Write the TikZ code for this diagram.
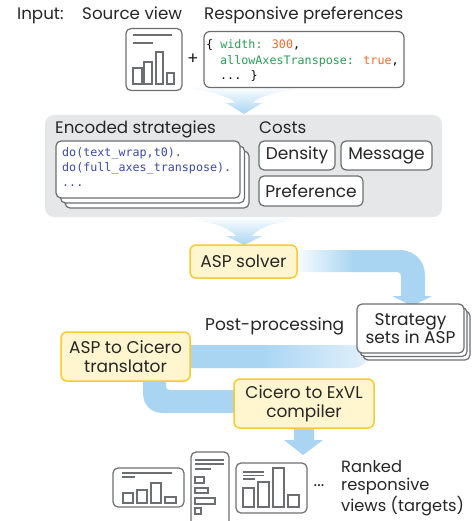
\documentclass[tikz,border=0pt]{standalone}
\usepackage{fontspec}
\setmainfont{Poppins}
\newfontfamily\codefont{DejaVu Sans Mono}
\definecolor{ink}{HTML}{262626}
\definecolor{cardgray}{HTML}{6D6E71}
\definecolor{grayfill}{HTML}{E6E7E8}
\definecolor{yfill}{HTML}{FFF6CF}
\definecolor{ygold}{HTML}{F7C932}
\definecolor{flowblue}{HTML}{A9D5F2}
\definecolor{flowpale}{HTML}{E4F1FB}
\definecolor{codegreen}{HTML}{2A9D55}
\definecolor{codeorange}{HTML}{F26B2A}
\definecolor{codenavy}{HTML}{3B4BA0}
\pgfdeclarehorizontalshading{fadeleft}{100bp}{color(0bp)=(white); color(25bp)=(white); color(47bp)=(flowblue); color(100bp)=(flowblue)}
\pgfdeclarehorizontalshading{faderight}{100bp}{color(0bp)=(flowblue); color(25bp)=(flowblue); color(45bp)=(flowblue); color(75bp)=(flowpale); color(100bp)=(flowpale)}
\newcommand\hdfont{\fontsize{16.7}{19}\selectfont}
\newcommand\lbfont{\fontsize{17}{18.5}\selectfont}
\newcommand\rkfont{\fontsize{16.3}{18.3}\selectfont}
\newcommand\cdfont{\fontsize{11.7}{14}\selectfont\codefont}
\begin{document}
\begin{tikzpicture}[x=1pt,y=-1pt,
  txt/.style={text=ink, inner sep=0pt},
  card/.style={draw=cardgray, line width=1.2pt, rounded corners=5pt, fill=white, inner sep=0pt},
  ybox/.style={draw=ygold, fill=yfill, line width=1.5pt, rounded corners=6pt, align=center, font=\lbfont, text=ink, inner sep=0pt},
  iconline/.style={draw=cardgray, line width=1.2pt},
  code/.style={inner sep=0pt, font=\cdfont, anchor=mid west}
]
\useasboundingbox (0,0) rectangle (471,521);

% ---- flows (behind everything)
\shade[top color=white, bottom color=flowblue]
  (172,86) .. controls (210,90) and (230,97) .. (236,103) -- (226,103) -- (244,114)
  -- (262,103) -- (252,103) .. controls (258,97) and (278,90) .. (316,86) -- cycle;
\shade[top color=white, bottom color=flowblue]
  (170,216) .. controls (210,220) and (230,228) .. (236,236) -- (226,236) -- (244,245)
  -- (262,236) -- (252,236) .. controls (258,228) and (278,220) .. (316,216) -- cycle;
\shade[shading=fadeleft]
  (292,250) -- (400,250) .. controls (414,250) and (425,261) .. (425,275) -- (425,296)
  -- (432,296) -- (412,306) -- (392,296) -- (401,296) -- (401,276)
  .. controls (401,274) and (400,272) .. (397,272) -- (292,272) -- cycle;
\shade[shading=faderight]
  (186,345) -- (372,345) -- (372,348) .. controls (372,359) and (363,368) .. (352,368)
  -- (186,368) -- cycle;
\fill[flowblue]
  (143,378) -- (143,393) .. controls (143,405) and (151,413) .. (163,413) -- (238,413)
  -- (238,390) -- (170,390) .. controls (167,390) and (166,389) .. (166,386) -- (166,378) -- cycle;
\fill[flowblue]
  (294,426) -- (294,440) -- (284,440) -- (303,455) -- (323,440) -- (314,440) -- (314,426) -- cycle;

% ---- input row
\node[txt, font=\hdfont, anchor=mid west] (input) at (17,17) {Input:};
\node[txt, font=\hdfont, anchor=mid west] (srclbl) at (82,17) {Source view};
\node[txt, font=\hdfont, anchor=mid west] (resplbl) at (204,17) {Responsive preferences};

\node[card, minimum width=56pt, minimum height=62pt] (srcicon) at (154,59.5) {};
\draw[iconline] (133,35) -- (172,35) (133,43) -- (153,43);
\draw[iconline] (133,68) rectangle (142,84) (144,62) rectangle (152,84)
  (156,52) rectangle (163,84) (167,73) rectangle (174,84);
\node[txt, font=\lbfont] (plus) at (193,59) {+};

\node[card, rounded corners=6pt, minimum width=200pt, minimum height=56pt] (pref) at (304,59.5) {};
\node[code] (p1) at (206,46) {\{ \textcolor{codegreen}{width:} \textcolor{codeorange}{300},};
\node[code] (p2) at (220,61.5) {\textcolor{codegreen}{allowAxesTranspose:} \textcolor{codeorange}{true},};
\node[code] (p3) at (220,76.5) {... \}};

% ---- encoded strategies & costs
\node[fill=grayfill, rounded corners=9pt, minimum width=397pt, minimum height=102pt, inner sep=0pt] (enc) at (243.5,166) {};
\node[txt, font=\hdfont, anchor=mid west] (enclbl) at (55,131) {Encoded strategies};
\node[txt, font=\hdfont, anchor=mid west] (costlbl) at (259,131) {Costs};

\node[card, minimum width=184pt, minimum height=57pt] (codeC) at (157,179.5) {};
\node[card, minimum width=184pt, minimum height=57pt] (codeB) at (152.5,174.5) {};
\node[card, minimum width=184pt, minimum height=57pt] (codeA) at (148,169.5) {};
\node[code, text=codenavy] (c1) at (62,154) {do(text\_wrap,t0).};
\node[code, text=codenavy] (c2) at (62,169) {do(full\_axes\_transpose).};
\node[code, text=codenavy] (c3) at (62,184) {...};

\node[card, font=\lbfont, text=ink, minimum width=76pt, minimum height=29pt] (density) at (297,155.5) {Density};
\node[card, font=\lbfont, text=ink, minimum width=91pt, minimum height=29pt] (message) at (386.5,155.5) {Message};
\node[card, font=\lbfont, text=ink, minimum width=104pt, minimum height=30pt] (prefc) at (311,191) {Preference};

% ---- solver
\node[ybox, minimum width=107pt, minimum height=33pt] (solver) at (243.5,261.5) {ASP solver};

% ---- strategy sets
\node[card, minimum width=107pt, minimum height=49pt] (setsC) at (416.5,335.5) {};
\node[card, minimum width=107pt, minimum height=49pt] (setsB) at (413.5,332) {};
\node[card, font=\lbfont, text=ink, align=center, minimum width=107pt, minimum height=49pt] (sets) at (410.5,328.5) {Strategy\\sets in ASP};

\node[txt, font=\lbfont, anchor=mid west] (post) at (205,328) {Post-processing};

\node[ybox, minimum width=129pt, minimum height=49pt] (transl) at (125.5,356.5) {ASP to Cicero\\translator};
\node[ybox, minimum width=140pt, minimum height=49pt] (compiler) at (304,403.5) {Cicero to ExVL\\compiler};

% ---- output views
\node[card, minimum width=71pt, minimum height=39pt] (view1) at (148.5,487.5) {};
\draw[iconline] (122,473) -- (172,473) (122,477) -- (135,477);
\draw[iconline] (123,493) rectangle (133,503) (137,490) rectangle (147,503)
  (151,483) rectangle (161,503) (165,497) rectangle (176,503);

\node[card, minimum width=38pt, minimum height=74pt] (view2) at (210,489) {};
\draw[iconline] (195,460) -- (224,460) (195,464) -- (224,464) (195,469) -- (211,469);
\draw[iconline] (195,477) rectangle (204,483) (195,488) rectangle (208,493)
  (195,498) rectangle (215,504) (195,508) rectangle (201,514);

\node[card, minimum width=71pt, minimum height=50pt] (view3) at (271.5,488) {};
\draw[iconline] (243,472) -- (264,472) (243,475.5) -- (264,475.5) (243,479) -- (255,479);
\draw[iconline] (243,488) rectangle (254,507) (258,482) rectangle (269,507)
  (273,468) rectangle (284,507) (288,495) rectangle (299,507);

\node[txt, font=\hdfont] (dots) at (319,486) {...};
\node[txt, font=\rkfont, align=left, anchor=west] (ranked) at (341,488) {Ranked\\responsive\\views (targets)};
\end{tikzpicture}
\end{document}
